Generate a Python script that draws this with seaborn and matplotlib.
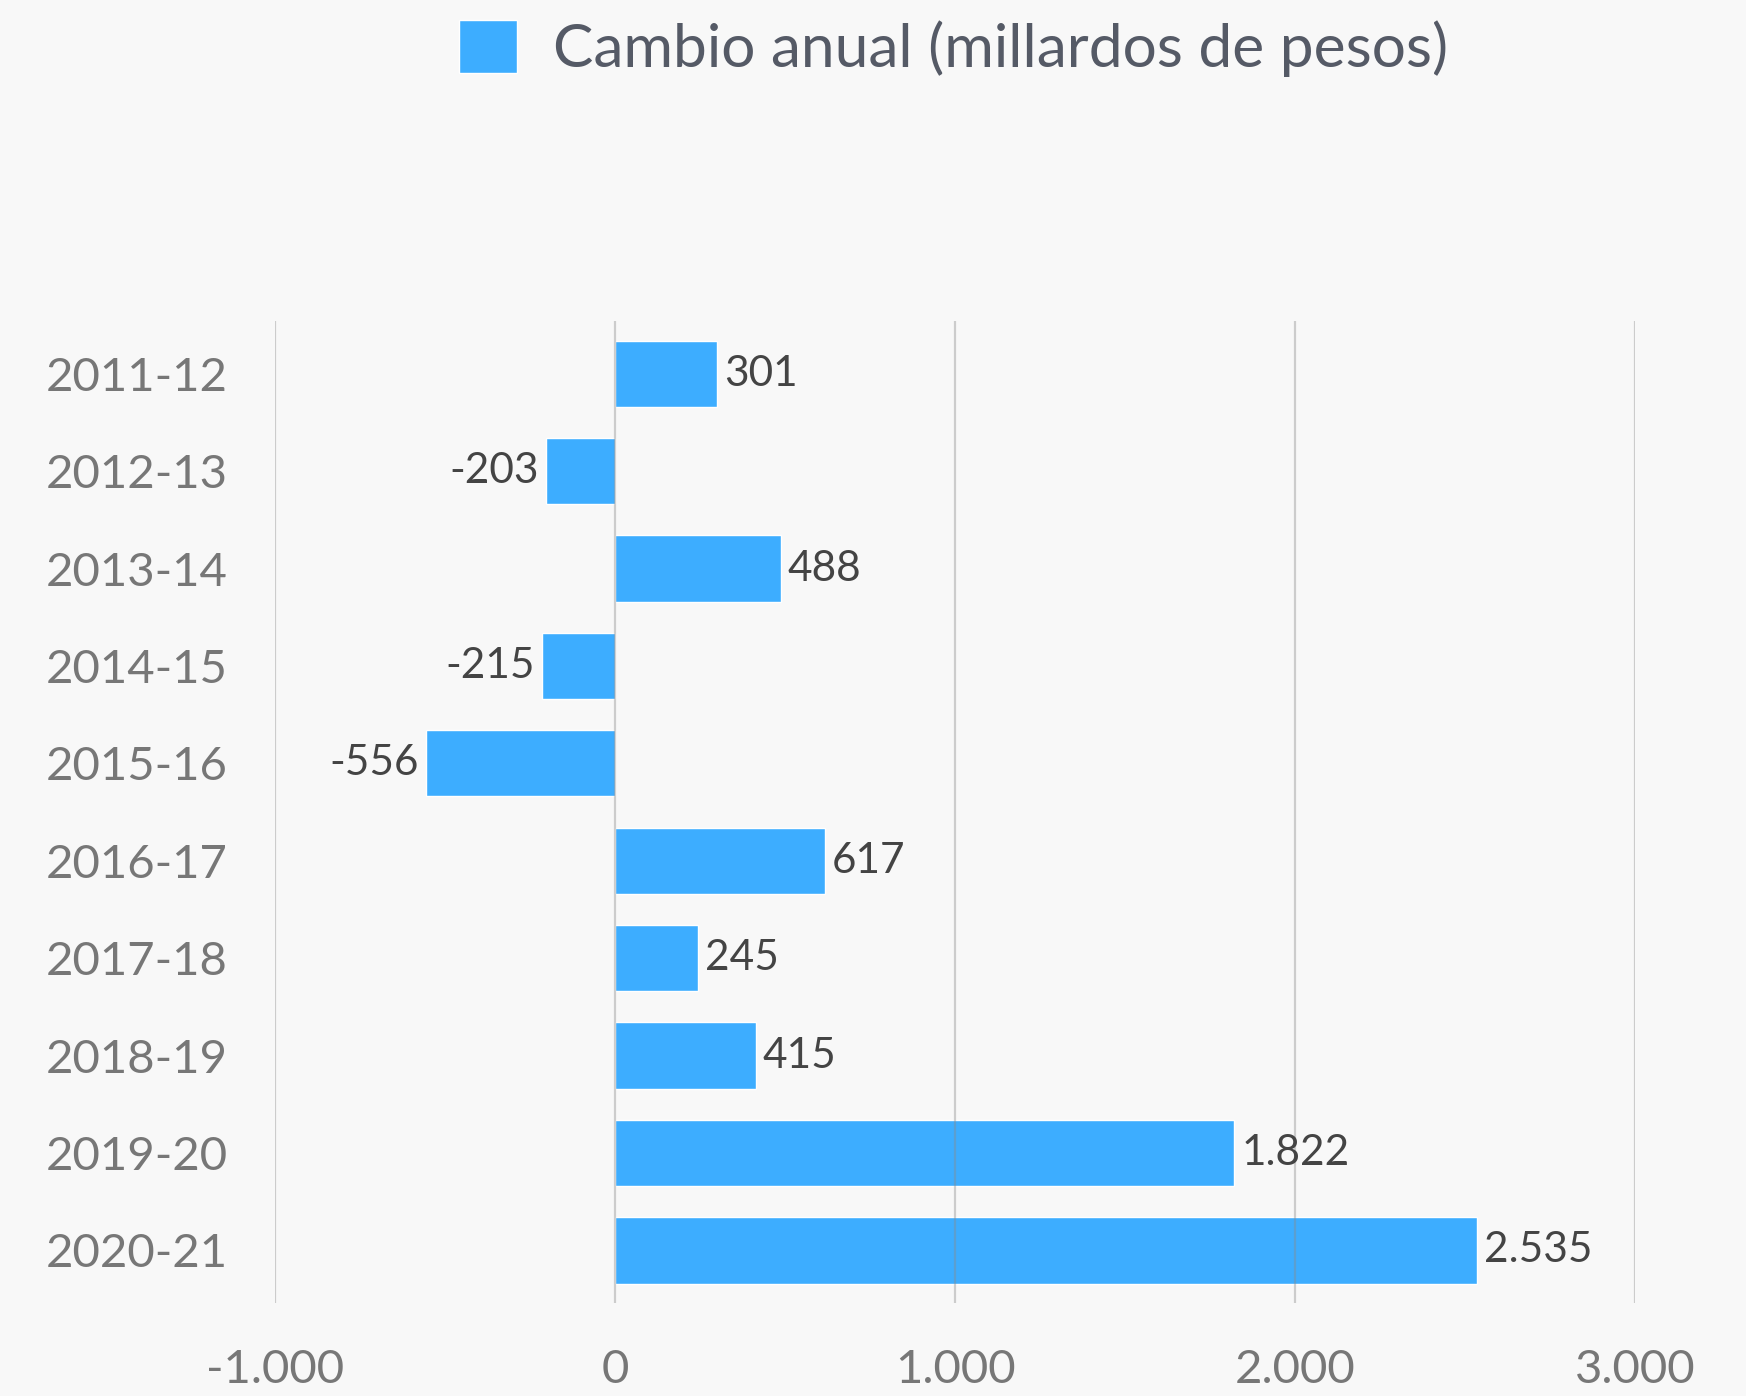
import seaborn as sns
import matplotlib.pyplot as plt
from matplotlib.patches import Patch

# data
periodos = ["2011-12", "2012-13", "2013-14", "2014-15", "2015-16",
            "2016-17", "2017-18", "2018-19", "2019-20", "2020-21"]
cambio = [301, -203, 488, -215, -556, 617, 245, 415, 1822, 2535]
xticks = [-1000, 0, 1000, 2000, 3000]
serie = "Cambio anual (millardos de pesos)"

azul = "#3dadff"
fondo = "#f8f8f8"

sns.set_theme(style="white")
plt.rcParams["font.family"] = ["Lato", "DejaVu Sans"]


def miles(v):
    return f"{v:,.0f}".replace(",", ".")


fig = plt.figure(figsize=(17.46, 13.96), dpi=100, facecolor=fondo)
ax = fig.add_axes([0.1575, 0.0666, 0.7789, 0.7034])
ax.set_facecolor(fondo)

sns.barplot(x=cambio, y=periodos, orient="h", color=azul, saturation=1,
            width=0.68, ax=ax, zorder=2)

ax.set_xlim(-1000, 3000)
ax.set_ylim(9.54, -0.54)
ax.set_xticks(xticks)
ax.set_xticklabels([miles(t) for t in xticks])

for t in xticks:
    ax.axvline(t, color="#8a8a8a", alpha=0.4, lw=1.6, zorder=3)

for i, v in enumerate(cambio):
    if v >= 0:
        ax.text(v + 20, i, miles(v), ha="left", va="center",
                fontsize=30.5, color="#444444")
    else:
        ax.text(v - 20, i, miles(v), ha="right", va="center",
                fontsize=30.5, color="#444444")

ax.tick_params(axis="y", length=0, pad=34, labelsize=34, labelcolor="#777777")
ax.tick_params(axis="x", length=0, pad=33, labelsize=34, labelcolor="#777777")
ax.set_xlabel("")
ax.set_ylabel("")
sns.despine(ax=ax, left=True, bottom=True)

fig.legend(handles=[Patch(facecolor=azul, label=serie)],
           loc="center", bbox_to_anchor=(0.546, 0.965), frameon=False,
           fontsize=43.5, labelcolor="#555a66", handlelength=0.96,
           handleheight=0.96, handletextpad=0.6)

fig.savefig("out.png", dpi=100, facecolor=fondo)
